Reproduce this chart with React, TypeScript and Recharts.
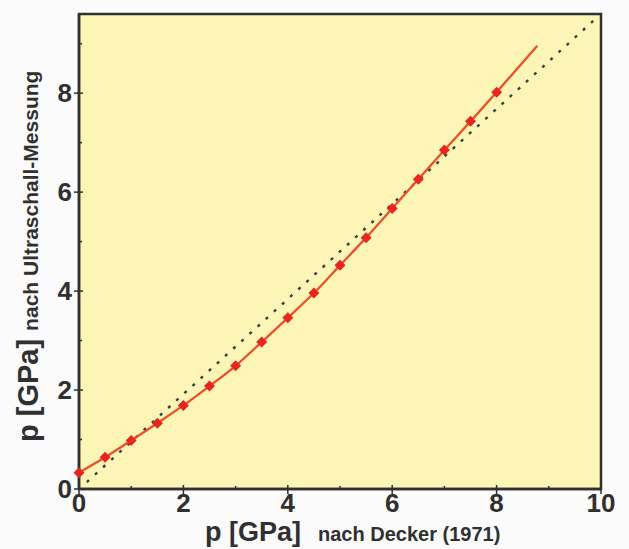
import React from 'react'
import { ComposedChart, Line, Scatter, XAxis, YAxis, ReferenceArea } from 'recharts'

// Druck nach Decker (1971) vs. Druck aus Ultraschall-Messung
const deckerP = [0, 0.5, 1, 1.5, 2, 2.5, 3, 3.5, 4, 4.5, 5, 5.5, 6, 6.5, 7, 7.5, 8]
const ultraschallP = [0.33, 0.64, 0.98, 1.33, 1.69, 2.08, 2.49, 2.97, 3.46, 3.96, 4.52, 5.08, 5.67, 6.26, 6.85, 7.43, 8.02]

// fitted curve runs a bit past the last measurement
const fitEndX = 8.78
const fitEndY = 8.96

// dotted diagonal of the plot box
const diagX = [0.15, 9.85]
const diagY = [0.14, 9.46]

const xTicks = [0, 1, 2, 3, 4, 5, 6, 7, 8, 9, 10]
const yTicks = [0, 1, 2, 3, 4, 5, 6, 7, 8, 9]

const FONT = '"Liberation Sans", Arial, sans-serif'
const INK = '#303030'

const points = deckerP.map((x, i) => ({ x, y: ultraschallP[i] }))
const fitLine = [...points, { x: fitEndX, y: fitEndY }]
const diagLine = diagX.map((x, i) => ({ x, y: diagY[i] }))

const XTick = (props: any) => {
  const { x, y, payload } = props
  const major = payload.value % 2 === 0
  return (
    <g>
      <line x1={x} x2={x} y1={major ? y - 4 : y - 3} y2={major ? y + 5 : y + 1} stroke={INK} strokeWidth={1.5} />
      {major && (
        <text x={x} y={y + 23} textAnchor="middle" fontFamily={FONT} fontWeight="bold" fontSize={26} fill={INK}>
          {payload.value}
        </text>
      )}
    </g>
  )
}

const YTick = (props: any) => {
  const { x, y, payload } = props
  const major = payload.value % 2 === 0
  return (
    <g>
      <line x1={major ? x - 5 : x - 1} x2={major ? x + 4 : x + 3} y1={y} y2={y} stroke={INK} strokeWidth={1.5} />
      {major && (
        <text x={x - 7} y={y + 9} textAnchor="end" fontFamily={FONT} fontWeight="bold" fontSize={26} fill={INK}>
          {payload.value}
        </text>
      )}
    </g>
  )
}

const Titles = () => (
  <g fontFamily={FONT} fontWeight="bold" fill={INK}>
    <text x={205} y={541}>
      <tspan fontSize={27}>p [GPa]</tspan>
      <tspan dx={17} fontSize={20}>nach Decker (1971)</tspan>
    </text>
    <text transform="rotate(-90)" x={-442} y={38}>
      <tspan fontSize={29}>p [GPa]</tspan>
      <tspan dx={8} fontSize={21}>nach Ultraschall-Messung</tspan>
    </text>
  </g>
)

const Diamond = (props: any) => {
  const { cx, cy } = props
  const r = 5.5
  return <path d={`M${cx},${cy - r}L${cx + r},${cy}L${cx},${cy + r}L${cx - r},${cy}Z`} fill="#e6261f" />
}

export default function App() {
  return (
    <div style={{ position: 'absolute', left: 0, top: 0, width: 629, height: 549, background: '#fbfbfc' }}>
      <ComposedChart width={629} height={549} margin={{ top: 14, right: 28, left: 0, bottom: 0 }}>
        <XAxis
          type="number"
          dataKey="x"
          domain={[0, 10]}
          ticks={xTicks}
          interval={0}
          height={60}
          tickSize={0}
          tickMargin={0}
          tick={<XTick />}
          axisLine={{ stroke: INK, strokeWidth: 2.5 }}
          label={<Titles />}
        />
        <YAxis
          type="number"
          dataKey="y"
          domain={[0, 9.6]}
          ticks={yTicks}
          interval={0}
          width={79}
          tickSize={0}
          tickMargin={0}
          tick={<YTick />}
          axisLine={{ stroke: INK, strokeWidth: 2.5 }}
        />
        <ReferenceArea x1={0} x2={10} y1={0} y2={9.6} fill="#fdf5b6" fillOpacity={1} stroke={INK} strokeWidth={2.5} />
        <Line
          data={diagLine}
          dataKey="y"
          type="linear"
          stroke="#3c3c3c"
          strokeWidth={2.4}
          strokeDasharray="3 8"
          dot={false}
          isAnimationActive={false}
        />
        <Line
          data={fitLine}
          dataKey="y"
          type="monotone"
          stroke="#e9502b"
          strokeWidth={2.3}
          dot={false}
          isAnimationActive={false}
        />
        <Scatter data={points} dataKey="y" shape={<Diamond />} isAnimationActive={false} />
      </ComposedChart>
    </div>
  )
}
